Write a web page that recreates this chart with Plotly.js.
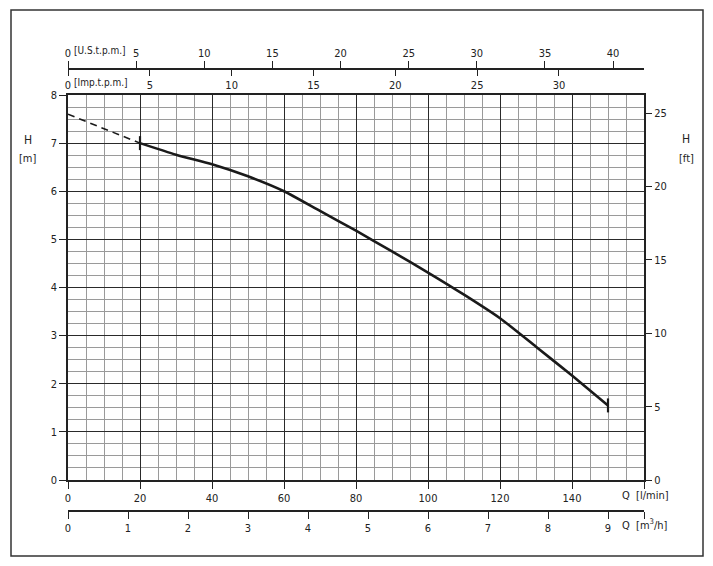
<!DOCTYPE html>
<html>
<head>
<meta charset="utf-8">
<script src="https://cdn.plot.ly/plotly-3.0.1.min.js"></script>
<style>html,body{margin:0;padding:0;background:#fff;}#chart{width:713px;height:566px;}</style>
</head>
<body>
<div id="chart"></div>
<script>
// ---- data (Q in l/min, H in m) ----
const qDash = [0, 10, 20];
const hDash = [7.6, 7.3, 7.0];
const qCurve = [20, 30, 40, 50, 60, 70, 80, 90, 100, 110, 120, 130, 140, 150];
const hCurve = [7.0, 6.76, 6.56, 6.31, 6.0, 5.59, 5.18, 4.75, 4.31, 3.85, 3.36, 2.77, 2.17, 1.55];
const qEnds = [20, 150];
const hEnds = [7.0, 1.55];

// ---- tick labels ----
const qTicks = [0, 20, 40, 60, 80, 100, 120, 140, 160];
const qTickText = ['0', '20', '40', '60', '80', '100', '120', '140', ' '];
const hTicks = [0, 1, 2, 3, 4, 5, 6, 7, 8];
const ftTicks = [0, 5, 10, 15, 20, 25];
const m3hTicks = [0, 1, 2, 3, 4, 5, 6, 7, 8, 9, 9.6];
const m3hTickText = ['0', '1', '2', '3', '4', '5', '6', '7', '8', '9', ' '];
const usTicks = [0, 5, 10, 15, 20, 25, 30, 35, 40];
const impTicks = [0, 5, 10, 15, 20, 25, 30];

// conversions
const QMAX = 160;
const US_GAL = 3.785411784, IMP_GAL = 4.54609, FT = 0.3048;

const FONT = 'DejaVu Sans Condensed, DejaVu Sans, sans-serif';
const TXT = '#222';
const tickFont = {family: FONT, size: 11, color: TXT};
const unitFont = {family: FONT, size: 10, color: TXT};

const traces = [
  {x: qDash, y: hDash, mode: 'lines', line: {color: '#1a1a1a', width: 1.6, dash: '7px,5px'}, hoverinfo: 'skip', showlegend: false},
  {x: qCurve, y: hCurve, mode: 'lines', line: {color: '#1a1a1a', width: 2.6, shape: 'spline', smoothing: 0.6}, hoverinfo: 'skip', showlegend: false},
  {x: qEnds, y: hEnds, mode: 'markers', marker: {symbol: 'line-ns', size: 10, line: {width: 2.2, color: '#1a1a1a'}}, hoverinfo: 'skip', showlegend: false},
  // helper traces so the secondary axes are drawn
  {x: [0], y: [-10], xaxis: 'x3', yaxis: 'y', mode: 'markers', marker: {opacity: 0}, hoverinfo: 'skip', showlegend: false},
  {x: [0], y: [-10], xaxis: 'x4', yaxis: 'y', mode: 'markers', marker: {opacity: 0}, hoverinfo: 'skip', showlegend: false},
  {x: [0], y: [-10], xaxis: 'x5', yaxis: 'y', mode: 'markers', marker: {opacity: 0}, hoverinfo: 'skip', showlegend: false},
  {x: [0], y: [-10], xaxis: 'x', yaxis: 'y2', mode: 'markers', marker: {opacity: 0}, hoverinfo: 'skip', showlegend: false}
];

// geometry (pixels) -> paper fractions
const W = 713, H = 566, ML = 68, MR = 69, MT = 30, MB = 30;
const plotW = W - ML - MR, plotH = H - MT - MB;
const px = v => (v - ML) / plotW;
const py = v => (H - MB - v) / plotH;

const layout = {
  width: W, height: H,
  margin: {l: ML, r: MR, t: MT, b: MB, pad: 0},
  paper_bgcolor: '#fff', plot_bgcolor: '#fff',
  font: {family: FONT, size: 11, color: TXT},
  showlegend: false,
  xaxis: {
    range: [0, QMAX], domain: [0, 1], anchor: 'y',
    tickmode: 'array', tickvals: qTicks, ticktext: qTickText,
    ticks: 'outside', ticklen: 7, tickwidth: 1, tickcolor: '#222',
    tickfont: tickFont,
    showgrid: true, gridcolor: '#2a2a2a', gridwidth: 1,
    minor: {tickmode: 'linear', tick0: 0, dtick: 5, showgrid: true, gridcolor: '#9a9a9a', gridwidth: 1, ticks: ''},
    showline: true, linecolor: '#222', linewidth: 1.8, mirror: true,
    zeroline: false, fixedrange: true
  },
  yaxis: {
    range: [0, 8], domain: [py(480), py(95)], anchor: 'x',
    tickmode: 'array', tickvals: hTicks,
    ticks: 'outside', ticklen: 7, tickwidth: 1, tickcolor: '#222',
    tickfont: tickFont,
    showgrid: true, gridcolor: '#2a2a2a', gridwidth: 1,
    minor: {tickmode: 'linear', tick0: 0, dtick: 0.25, showgrid: true, gridcolor: '#9a9a9a', gridwidth: 1, ticks: ''},
    showline: true, linecolor: '#222', linewidth: 1.8, mirror: true,
    zeroline: false, fixedrange: true
  },
  yaxis2: {
    range: [0, 8 / FT], overlaying: 'y', side: 'right', anchor: 'x',
    tickmode: 'array', tickvals: ftTicks,
    ticks: 'outside', ticklen: 7, tickwidth: 1, tickcolor: '#222',
    tickfont: tickFont,
    showgrid: false, showline: false, zeroline: false, fixedrange: true
  },
  // U.S. gallons per minute (top, ticks up)
  xaxis3: {
    range: [0, QMAX / US_GAL], overlaying: 'x', anchor: 'free', position: py(68), side: 'top',
    tickmode: 'array', tickvals: usTicks,
    ticks: 'outside', ticklen: 7, tickwidth: 1, tickcolor: '#222',
    tickfont: tickFont,
    showgrid: false, showline: true, linecolor: '#222', linewidth: 1.5, zeroline: false, fixedrange: true
  },
  // Imperial gallons per minute (top, ticks down)
  xaxis4: {
    range: [0, QMAX / IMP_GAL], overlaying: 'x', anchor: 'free', position: py(68), side: 'bottom',
    tickmode: 'array', tickvals: impTicks,
    ticks: 'outside', ticklen: 7, tickwidth: 1, tickcolor: '#222',
    tickfont: tickFont,
    showgrid: false, showline: false, zeroline: false, fixedrange: true
  },
  // m3/h (bottom)
  xaxis5: {
    range: [0, QMAX * 0.06], overlaying: 'x', anchor: 'free', position: py(510), side: 'bottom',
    tickmode: 'array', tickvals: m3hTicks, ticktext: m3hTickText,
    ticks: 'outside', ticklen: 7, tickwidth: 1, tickcolor: '#222',
    tickfont: tickFont,
    showgrid: false, showline: true, linecolor: '#222', linewidth: 1.5, zeroline: false, fixedrange: true
  },
  shapes: [
    {type: 'rect', xref: 'paper', yref: 'paper', x0: px(11), x1: px(703), y0: py(556), y1: py(10),
     line: {color: '#333', width: 1.5}, fillcolor: 'rgba(0,0,0,0)', layer: 'above'}
  ],
  annotations: [
    {text: '[U.S.t.p.m.]', xref: 'paper', yref: 'paper', x: px(72), y: py(51), xanchor: 'left', yanchor: 'middle', showarrow: false, font: unitFont},
    {text: '[Imp.t.p.m.]', xref: 'paper', yref: 'paper', x: px(72), y: py(83), xanchor: 'left', yanchor: 'middle', showarrow: false, font: unitFont},
    {text: 'Q  [l/min]', xref: 'paper', yref: 'paper', x: px(620), y: py(495), xanchor: 'left', yanchor: 'middle', showarrow: false, font: tickFont},
    {text: 'Q  [m<sup>3</sup>/h]', xref: 'paper', yref: 'paper', x: px(620), y: py(524), xanchor: 'left', yanchor: 'middle', showarrow: false, font: tickFont},
    {text: 'H', xref: 'paper', yref: 'paper', x: px(28), y: py(140), xanchor: 'center', yanchor: 'middle', showarrow: false, font: {family: FONT, size: 12, color: TXT}},
    {text: '[m]', xref: 'paper', yref: 'paper', x: px(28), y: py(158), xanchor: 'center', yanchor: 'middle', showarrow: false, font: tickFont},
    {text: 'H', xref: 'paper', yref: 'paper', x: px(686), y: py(139), xanchor: 'center', yanchor: 'middle', showarrow: false, font: {family: FONT, size: 12, color: TXT}},
    {text: '[ft]', xref: 'paper', yref: 'paper', x: px(686), y: py(158), xanchor: 'center', yanchor: 'middle', showarrow: false, font: tickFont}
  ]
};

Plotly.newPlot('chart', traces, layout, {staticPlot: true, displayModeBar: false});
</script>
</body>
</html>
